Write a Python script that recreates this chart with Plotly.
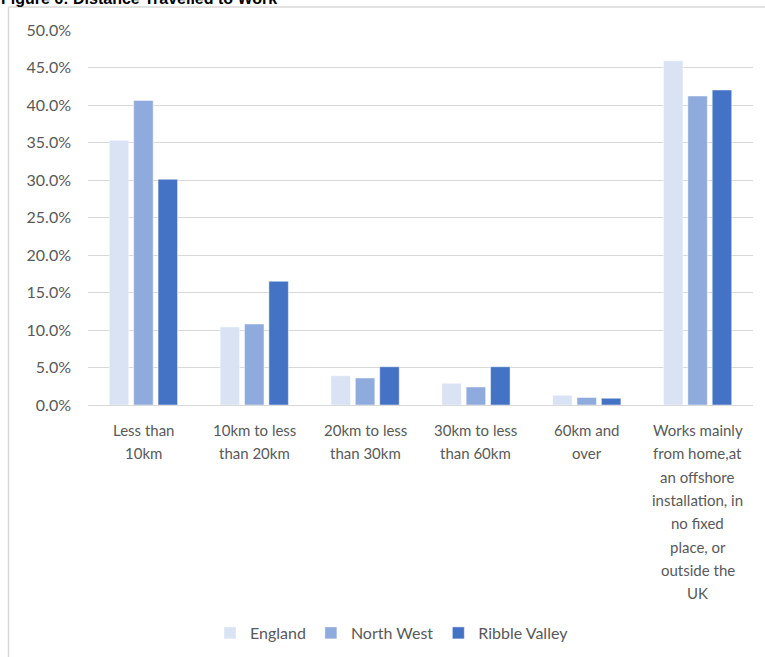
import plotly.graph_objects as go

# Distance travelled to work, share of usual residents in employment
categories = [
    "Less than<br>10km",
    "10km to less<br>than 20km",
    "20km to less<br>than 30km",
    "30km to less<br>than 60km",
    "60km and<br>over",
    "Works mainly<br>from home,at<br>an offshore<br>installation, in<br>no fixed<br>place, or<br>outside the<br>UK",
]
england = [35.3, 10.4, 3.9, 2.9, 1.3, 45.9]
north_west = [40.6, 10.8, 3.6, 2.4, 1.0, 41.2]
ribble_valley = [30.1, 16.5, 5.1, 5.1, 0.9, 42.0]

series_names = ["England", "North West", "Ribble Valley"]
series_colors = ["#DAE3F3", "#8FAADC", "#4472C4"]
tick_vals = [0, 5, 10, 15, 20, 25, 30, 35, 40, 45, 50]
tick_text = [f"{v:.1f}%" for v in tick_vals]

W, H = 765, 657
L, R, T, B = 88, 12, 30, 252
pw, ph = W - L - R, H - T - B


def px_x(p):
    return (p - L) / pw


def px_y(p):
    return (H - B - p) / ph


label_font = "Lato, Calibri, sans-serif"
main_font = "Lato, Calibri, sans-serif"
grey = "#595959"

fig = go.Figure()
for name, vals, col in zip(series_names, [england, north_west, ribble_valley], series_colors):
    fig.add_trace(go.Bar(
        x=categories, y=vals, name=name,
        marker=dict(color=col, line=dict(color="rgba(255,255,255,0.6)", width=0.8)),
    ))

annotations = []
# category labels, one annotation per wrapped line
for cat in categories:
    for k, line in enumerate(cat.split("<br>")):
        annotations.append(dict(
            x=cat, xref="x", y=0, yref="paper", yanchor="middle",
            yshift=-(25 + k * 23.3), text=line, showarrow=False,
            font=dict(family=label_font, size=15, color=grey),
        ))

# chart title (sits at the very top edge)
annotations.append(dict(
    x=px_x(-1), xref="paper", xanchor="left",
    y=px_y(9), yref="paper", yanchor="bottom",
    text="<b>Figure 6: Distance Travelled to Work</b>", showarrow=False,
    font=dict(family="Liberation Sans, Arial, sans-serif", size=16, color="#000000"),
))

shapes = [
    dict(type="line", xref="paper", yref="paper",
         x0=px_x(8.5), x1=px_x(780), y0=px_y(7), y1=px_y(7),
         line=dict(color="#D9D9D9", width=1.5)),
    dict(type="line", xref="paper", yref="paper",
         x0=px_x(8.5), x1=px_x(8.5), y0=px_y(7), y1=px_y(680),
         line=dict(color="#D9D9D9", width=1.5)),
]

fig.update_layout(
    width=W, height=H,
    margin=dict(l=L, r=R, t=T, b=B, autoexpand=False),
    paper_bgcolor="white", plot_bgcolor="white",
    barmode="group", bargap=0.34, bargroupgap=0.2,
    font=dict(family=main_font, size=16, color=grey),
    xaxis=dict(showticklabels=False, showgrid=False, showline=False, ticks=""),
    yaxis=dict(
        range=[0, 50], tickvals=tick_vals, ticktext=tick_text,
        showgrid=True, gridcolor="#D9D9D9", gridwidth=1,
        zeroline=True, zerolinecolor="#D9D9D9", zerolinewidth=1,
        showline=False, ticks="", ticklabelstandoff=16,
        tickfont=dict(family=main_font, size=16, color=grey),
    ),
    legend=dict(
        orientation="h", x=px_x(392), xanchor="center",
        y=px_y(633), yanchor="middle",
        font=dict(family=main_font, size=16, color=grey),
        itemwidth=30, traceorder="normal",
    ),
    annotations=annotations,
    shapes=shapes,
)

fig.write_html("out.html")
